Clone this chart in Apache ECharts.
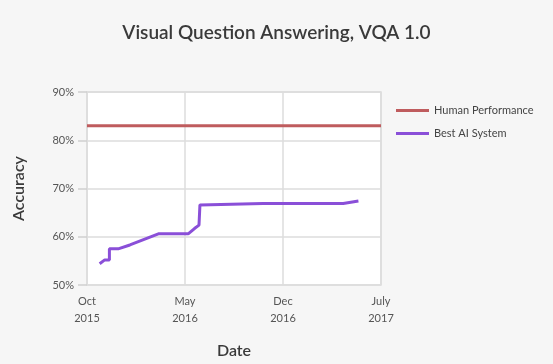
<!DOCTYPE html>
<html><head><meta charset="utf-8">
<script src="https://cdn.jsdelivr.net/npm/echarts@6/dist/echarts.min.js"></script>
<style>html,body{margin:0;padding:0;background:#f6f6f6}#c{width:553px;height:364px}</style>
</head><body><div id="c"></div>
<script>
var title = "Visual Question Answering, VQA 1.0";
var seriesNames = ["Human Performance", "Best AI System"];
var humanDates = ["2015-10-01", "2017-07-01"];
var humanValues = [83, 83];
var aiDates = ["2015-10-29", "2015-11-09", "2015-11-19", "2015-11-19", "2015-12-08", "2016-01-03", "2016-03-04", "2016-05-08", "2016-05-22", "2016-06-01", "2016-06-03", "2016-10-19", "2017-04-10", "2017-05-13"];
var aiValues = [54.4, 55.2, 55.2, 57.5, 57.5, 58.3, 60.6, 60.6, 61.7, 62.4, 66.6, 66.9, 66.9, 67.4];
var xTickLabels = ["Oct\n2015", "May\n2016", "Dec\n2016", "July\n2017"];
var yTicks = [50, 60, 70, 80, 90];

function monthIndex(s) {
  var p = s.split("-").map(Number);
  var dim = new Date(p[0], p[1], 0).getDate();
  return (p[0] - 2015) * 12 + (p[1] - 10) + (p[2] - 1) / dim;
}
function pairs(d, v) { return d.map(function (x, i) { return [monthIndex(x), v[i]]; }); }

var font = "Lato, 'Open Sans', sans-serif";
var chart = echarts.init(document.getElementById('c'));
chart.setOption({
  backgroundColor: '#f6f6f6',
  animation: false,
  title: { text: title, left: 'center', top: 18, textStyle: { fontFamily: font, fontSize: 19, fontWeight: 600, color: '#3a3a3a' } },
  grid: { left: 87, right: 172, top: 92, bottom: 77, show: true, backgroundColor: '#ffffff', borderColor: '#dcdcdc', borderWidth: 1.5 },
  legend: {
    orient: 'vertical', left: 391, top: 100, itemWidth: 33, itemHeight: 3, itemGap: 12,
    icon: 'rect',
    textStyle: { fontFamily: font, fontSize: 11, color: '#444' },
    data: seriesNames
  },
  xAxis: {
    type: 'value', min: 0, max: 21, interval: 7,
    name: 'Date', nameLocation: 'middle', nameGap: 58,
    nameTextStyle: { fontFamily: font, fontSize: 16, fontWeight: 600, color: '#3a3a3a' },
    axisLine: { show: false }, axisTick: { show: false },
    splitLine: { show: true, lineStyle: { color: '#dcdcdc', width: 1.5 } },
    axisLabel: { fontFamily: font, fontSize: 11, color: '#555', lineHeight: 17, margin: 8,
      formatter: function (v) { return xTickLabels[Math.round(v / 7)]; } }
  },
  yAxis: {
    type: 'value', min: 50, max: 90, interval: 10,
    name: 'Accuracy', nameLocation: 'middle', nameGap: 60,
    nameTextStyle: { fontFamily: font, fontSize: 16, fontWeight: 600, color: '#3a3a3a' },
    axisLine: { show: false },
    axisTick: { show: true, length: 9, lineStyle: { color: '#cfcfcf', width: 1.5 } },
    splitLine: { show: true, lineStyle: { color: '#dcdcdc', width: 1.5 } },
    axisLabel: { fontFamily: font, fontSize: 11, color: '#555', margin: 13,
      formatter: function (v) { return v + '%'; } }
  },
  series: [
    { name: seriesNames[0], type: 'line', data: pairs(humanDates, humanValues), showSymbol: false, symbol: 'none',
      lineStyle: { color: '#bf5c5e', width: 3 }, itemStyle: { color: '#bf5c5e' } },
    { name: seriesNames[1], type: 'line', data: pairs(aiDates, aiValues), showSymbol: false, symbol: 'none',
      lineStyle: { color: '#8a4fd8', width: 3 }, itemStyle: { color: '#8a4fd8' } }
  ]
});
</script></body></html>
